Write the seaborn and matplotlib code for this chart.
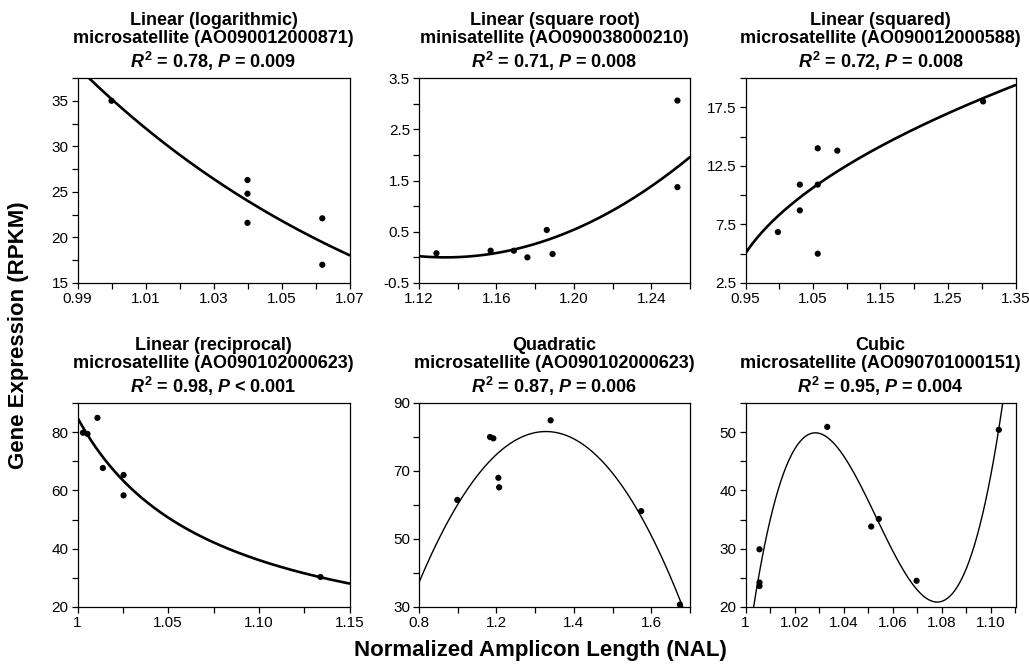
import numpy as np
import pandas as pd
import matplotlib
matplotlib.use("Agg")
import matplotlib.pyplot as plt
from matplotlib.ticker import MultipleLocator, FixedLocator, FixedFormatter
import seaborn as sns

# --- data ---
# linear (logarithmic), AO090012000871
log_x = [1.000, 1.040, 1.040, 1.040, 1.062, 1.062]
log_y = [35.0, 26.3, 24.8, 21.6, 22.1, 17.0]

# linear (square root), AO090038000210
sqrt_x = [1.129, 1.157, 1.169, 1.176, 1.186, 1.189, 1.2535, 1.2535]
sqrt_y = [0.08, 0.13, 0.13, 0.0, 0.535, 0.066, 3.06, 1.37]

# linear (squared), AO090012000588
sq_x = [0.998, 1.0305, 1.0305, 1.057, 1.057, 1.057, 1.086, 1.302]
sq_y = [6.85, 10.9, 8.7, 14.0, 10.9, 5.0, 13.8, 18.0]

# linear (reciprocal), AO090102000623
rec_x = [1.003, 1.0055, 1.011, 1.014, 1.0254, 1.0254, 1.134]
rec_y = [79.8, 79.4, 84.9, 67.7, 65.3, 58.3, 30.3]

# quadratic, AO090102000623
quad_x = [1.099, 1.1835, 1.192, 1.205, 1.207, 1.340, 1.574, 1.674]
quad_y = [61.5, 80.0, 79.6, 68.0, 65.2, 84.9, 58.2, 30.7]

# cubic, AO090701000151
cub_x = [1.0057, 1.0057, 1.0057, 1.0333, 1.0512, 1.0543, 1.0697, 1.1032]
cub_y = [29.9, 24.2, 23.6, 50.9, 33.8, 35.1, 24.5, 50.4]

titles = [
    ("Linear (logarithmic)", "microsatellite (AO090012000871)", "0.78", "= 0.009"),
    ("Linear (square root)", "minisatellite (AO090038000210)", "0.71", "= 0.008"),
    ("Linear (squared)", "microsatellite (AO090012000588)", "0.72", "= 0.008"),
    ("Linear (reciprocal)", "microsatellite (AO090102000623)", "0.98", "< 0.001"),
    ("Quadratic", "microsatellite (AO090102000623)", "0.87", "= 0.006"),
    ("Cubic", "microsatellite (AO090701000151)", "0.95", "= 0.004"),
]

# axis ranges and tick labels
xlims = [(0.99, 1.07), (1.12, 1.26), (0.95, 1.35), (1.0, 1.15), (1.0, 1.7), (1.0, 1.11)]
ylims = [(15, 37.5), (-0.5, 3.5), (2.5, 20), (20, 90), (30, 90), (20, 55)]
xmajor = [[0.99, 1.01, 1.03, 1.05, 1.07], [1.12, 1.16, 1.20, 1.24],
          [0.95, 1.05, 1.15, 1.25, 1.35], [1.0, 1.05, 1.10, 1.15],
          [1.0, 1.2, 1.4, 1.6], [1.0, 1.02, 1.04, 1.06, 1.08, 1.10]]
xlabels = [["0.99", "1.01", "1.03", "1.05", "1.07"], ["1.12", "1.16", "1.20", "1.24"],
           ["0.95", "1.05", "1.15", "1.25", "1.35"], ["1", "1.05", "1.10", "1.15"],
           ["0.8", "1.2", "1.4", "1.6"], ["1", "1.02", "1.04", "1.06", "1.08", "1.10"]]
xminor = [0.01, 0.02, 0.05, 0.025, 0.1, 0.01]
ymajor = [[15, 20, 25, 30, 35], [-0.5, 0.5, 1.5, 2.5, 3.5], [2.5, 7.5, 12.5, 17.5],
          [20, 40, 60, 80], [30, 50, 70, 90], [20, 30, 40, 50]]
yminor = [2.5, 0.5, 2.5, 10, 10, 5]

sns.set_style("ticks")
plt.rcParams["font.family"] = ["Liberation Sans Narrow", "Liberation Sans", "DejaVu Sans"]
plt.rcParams["text.color"] = "black"
plt.rcParams["mathtext.fontset"] = "custom"
plt.rcParams["mathtext.rm"] = "Liberation Sans:bold"
plt.rcParams["mathtext.bf"] = "Liberation Sans:bold"
plt.rcParams["mathtext.it"] = "Liberation Sans:italic:bold"
plt.rcParams["mathtext.bfit"] = "Liberation Sans:italic:bold"

W, H = 1029, 671
fig = plt.figure(figsize=(W / 100, H / 100), dpi=100)

cols = [(77.5, 349.5), (419, 690), (745.5, 1015.5)]
rows = [(78, 283), (403, 607)]


def transformed_fit(x, y, fwd, inv, lo, hi):
    # straight line on the transformed response, drawn back on the raw scale
    b, a = np.polyfit(np.asarray(x), fwd(np.asarray(y, dtype=float)), 1)
    xs = np.linspace(lo, hi, 300)
    return pd.DataFrame({"x": xs, "y": inv(a + b * xs)})


transforms = [
    (np.log, np.exp),
    (lambda v: np.sqrt(np.clip(v, 0, None)), lambda v: v ** 2),
    (lambda v: v ** 2, lambda v: np.sqrt(np.clip(v, 0, None))),
    (lambda v: 1.0 / v, lambda v: 1.0 / v),
]
xs_all = [log_x, sqrt_x, sq_x, rec_x, quad_x, cub_x]
ys_all = [log_y, sqrt_y, sq_y, rec_y, quad_y, cub_y]

for i in range(6):
    r, c = divmod(i, 3)
    l, rr = cols[c]
    t, b = rows[r]
    ax = fig.add_axes([l / W, 1 - b / H, (rr - l) / W, (b - t) / H])
    ax.set_xlim(*xlims[i])
    ax.set_ylim(*ylims[i])
    df = pd.DataFrame({"x": xs_all[i], "y": ys_all[i]})

    if i < 4:
        fwd, inv = transforms[i]
        curve = transformed_fit(df.x, df.y, fwd, inv, *xlims[i])
        sns.lineplot(data=curve, x="x", y="y", ax=ax, color="black", lw=1.9)
        sns.scatterplot(data=df, x="x", y="y", ax=ax, color="black", s=20,
                        edgecolor="none", zorder=3)
    else:
        sns.regplot(data=df, x="x", y="y", ax=ax, order=i - 2, ci=None,
                    truncate=False, color="black",
                    scatter_kws=dict(s=20, edgecolor="none", alpha=1, zorder=3),
                    line_kws=dict(lw=1.0))

    ax.set_xlim(*xlims[i])
    ax.set_ylim(*ylims[i])
    ax.xaxis.set_major_locator(FixedLocator(xmajor[i]))
    ax.xaxis.set_major_formatter(FixedFormatter(xlabels[i]))
    ax.xaxis.set_minor_locator(MultipleLocator(xminor[i]))
    ax.yaxis.set_major_locator(FixedLocator(ymajor[i]))
    ax.yaxis.set_major_formatter(FixedFormatter([f"{v:g}" for v in ymajor[i]]))
    ax.yaxis.set_minor_locator(MultipleLocator(yminor[i]))
    ax.tick_params(which="both", direction="out", length=4.5, width=0.9,
                   color="black", labelcolor="black", labelsize=11, pad=2)
    for sp in ax.spines.values():
        sp.set_visible(True)
        sp.set_color("black")
        sp.set_linewidth(0.9)
    ax.set_xlabel("")
    ax.set_ylabel("")

    t1, t2, r2, pv = titles[i]
    ax.set_title(f"{t1}\n{t2}\n$\\mathit{{R}}^{{2}}$ = {r2}, $\\mathit{{P}}$ {pv}",
                 fontsize=13, fontweight="bold", family="Liberation Sans",
                 color="black", linespacing=1.15, pad=7)

fig.text(0.018, 0.5, "Gene Expression (RPKM)", rotation=90, ha="center",
         va="center", fontsize=16, fontweight="bold", family="Liberation Sans",
         color="black")
fig.text(0.525, 0.031, "Normalized Amplicon Length (NAL)", ha="center",
         va="center", fontsize=16, fontweight="bold", family="Liberation Sans",
         color="black")

fig.savefig("out.png", dpi=100)
